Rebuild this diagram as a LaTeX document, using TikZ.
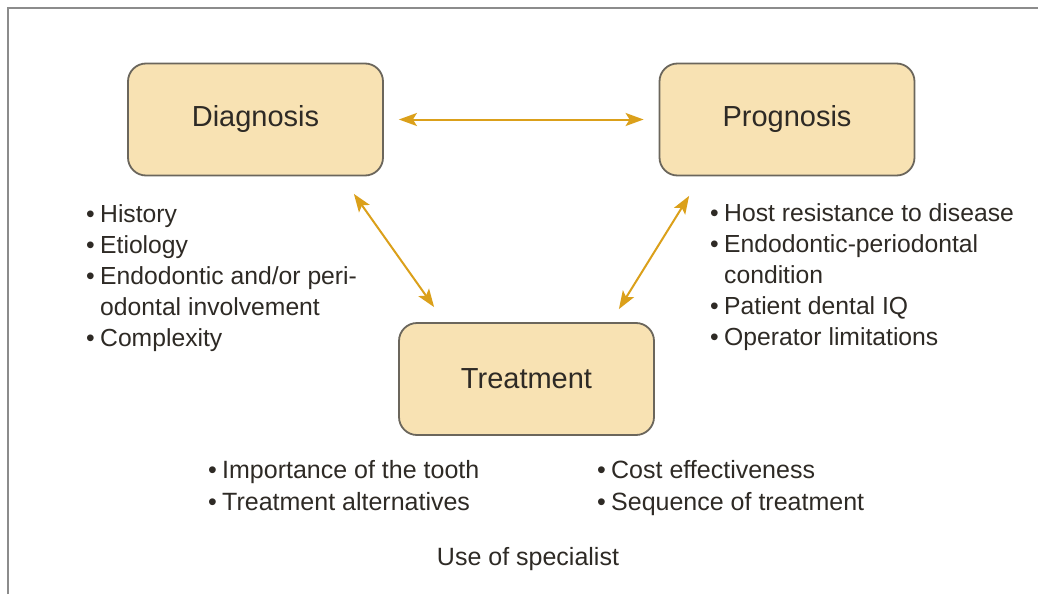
\documentclass[tikz,border=0pt]{standalone}
\usepackage{fontspec}
\setmainfont{Liberation Sans}
\usetikzlibrary{arrows.meta}
\definecolor{boxfill}{HTML}{F8E2B3}
\definecolor{boxline}{HTML}{6B665C}
\definecolor{arrowc}{HTML}{DBA01A}
\definecolor{txt}{HTML}{2E2A25}
\definecolor{framec}{HTML}{8C8C8C}
\newcommand\lbul{\makebox[14pt][l]{\textbullet}}
\begin{document}
\begin{tikzpicture}[x=1pt,y=-1pt,
  stagebox/.style={draw=boxline, fill=boxfill, line width=1.8pt, rounded corners=18pt,
    minimum width=255pt, minimum height=112pt, inner sep=0pt,
    font=\fontsize{29}{34}\selectfont, text=txt},
  listtext/.style={font=\fontsize{24.7}{31}\selectfont, text=txt, inner sep=0pt, anchor=base west},
  bottomtext/.style={font=\fontsize{25}{32}\selectfont, text=txt, inner sep=0pt, anchor=base west},
  conn/.style={draw=arrowc, line width=2pt, {Stealth[length=18pt,width=13pt,inset=4pt]}-{Stealth[length=18pt,width=13pt,inset=4pt]}}
]
\useasboundingbox (0,0) rectangle (1038,594);
\fill[white] (0,0) rectangle (1038,594);
\draw[framec, line width=2.5pt] (8,594) -- (8,8) -- (1038,8);

\node[stagebox] (D) at (255.5,119.5) {Diagnosis};
\node[stagebox] (P) at (787,119.5) {Prognosis};
\node[stagebox] (T) at (526.5,379) {Treatment};

\node[listtext] (dl) at (86,222) {\begin{tabular}[t]{@{}l@{}}
\lbul History\\
\lbul Etiology\\
\lbul Endodontic and/or peri-\\
\hspace{14pt}odontal involvement\\
\lbul Complexity
\end{tabular}};

\node[listtext] (pl) at (710,221) {\begin{tabular}[t]{@{}l@{}}
\lbul Host resistance to disease\\
\lbul Endodontic-periodontal\\
\hspace{14pt}condition\\
\lbul Patient dental IQ\\
\lbul Operator limitations
\end{tabular}};

\node[bottomtext] (tl1) at (208,478) {\begin{tabular}[t]{@{}l@{}}
\lbul Importance of the tooth\\
\lbul Treatment alternatives
\end{tabular}};

\node[bottomtext] (tl2) at (597,478) {\begin{tabular}[t]{@{}l@{}}
\lbul Cost effectiveness\\
\lbul Sequence of treatment
\end{tabular}};

\node[font=\fontsize{25}{31}\selectfont, text=txt, inner sep=0pt, anchor=base] (sp) at (528,565) {Use of specialist};

\coordinate (dA) at ([shift={(-30,17.5)}]D.south east);
\coordinate (tA) at ([shift={(36,-15)}]T.north west);
\coordinate (pA) at ([shift={(30.5,19.5)}]P.south west);
\coordinate (tB) at ([shift={(-36,-13)}]T.north east);

\draw[conn, shorten <=15pt, shorten >=15pt] (D.east) -- (P.west);
\draw[conn] (dA) -- (tA);
\draw[conn] (pA) -- (tB);
\end{tikzpicture}
\end{document}
